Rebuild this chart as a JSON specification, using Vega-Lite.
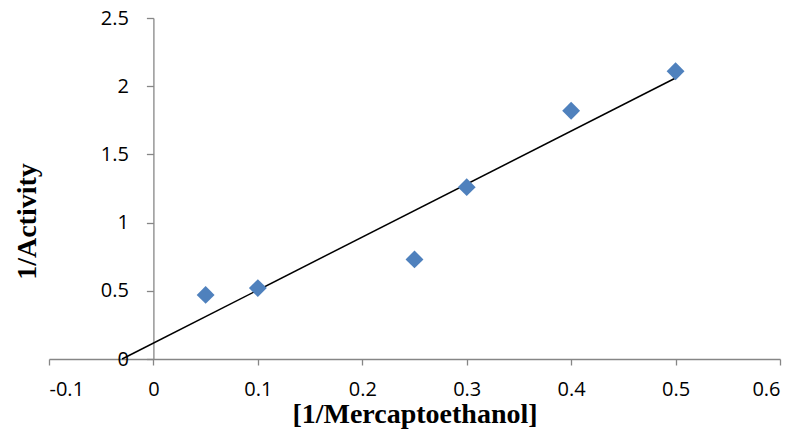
{
  "$schema": "https://vega.github.io/schema/vega-lite/v6.json",
  "width": 731,
  "height": 341,
  "autosize": {"type": "none"},
  "padding": {"left": 49, "top": 18, "right": 21, "bottom": 73},
  "background": "white",
  "config": {
    "view": {"stroke": null},
    "axis": {
      "grid": false,
      "domainColor": "#868686",
      "tickColor": "#868686",
      "domainWidth": 1.3,
      "tickWidth": 1.3,
      "labelFont": "Open Sans",
      "labelFontSize": 20,
      "labelColor": "#000000",
      "titleFont": "Liberation Serif",
      "titleFontWeight": "bold",
      "titleFontSize": 28,
      "titleColor": "#000000"
    }
  },
  "layer": [
    {
      "data": {"values": [
        {"x": -0.03, "y": 0.0},
        {"x": 0.5, "y": 2.06}
      ]},
      "mark": {"type": "line", "color": "#000000", "strokeWidth": 1.5},
      "encoding": {
        "x": {
          "field": "x", "type": "quantitative",
          "scale": {"domain": [-0.1, 0.6], "nice": false, "zero": false},
          "axis": {
            "values": [-0.1, 0, 0.1, 0.2, 0.3, 0.4, 0.5, 0.6],
            "labelExpr": "toString(datum.value)",
            "tickSize": 6,
            "labelPadding": 14,
            "labelOverlap": false,
            "title": "[1/Mercaptoethanol]",
            "titleBaseline": "alphabetic",
            "titleY": 63
          }
        },
        "y": {
          "field": "y", "type": "quantitative",
          "scale": {"domain": [0, 2.5], "nice": false},
          "axis": {
            "values": [0, 0.5, 1, 1.5, 2, 2.5],
            "labelExpr": "toString(datum.value)",
            "offset": -104.4,
            "tickSize": 7,
            "labelPadding": 18,
            "labelOverlap": false,
            "title": "1/Activity",
            "titleAngle": -90,
            "titleBaseline": "alphabetic",
            "titleX": -118,
            "titleY": 203
          }
        }
      }
    },
    {
      "data": {"values": [
        {"x": 0.05, "y": 0.47},
        {"x": 0.1, "y": 0.52},
        {"x": 0.25, "y": 0.73},
        {"x": 0.3, "y": 1.26},
        {"x": 0.4, "y": 1.82},
        {"x": 0.5, "y": 2.11}
      ]},
      "mark": {"type": "point", "shape": "diamond", "filled": true, "color": "#4F81BD", "opacity": 1, "size": 320},
      "encoding": {
        "x": {"field": "x", "type": "quantitative"},
        "y": {"field": "y", "type": "quantitative"}
      }
    }
  ]
}
